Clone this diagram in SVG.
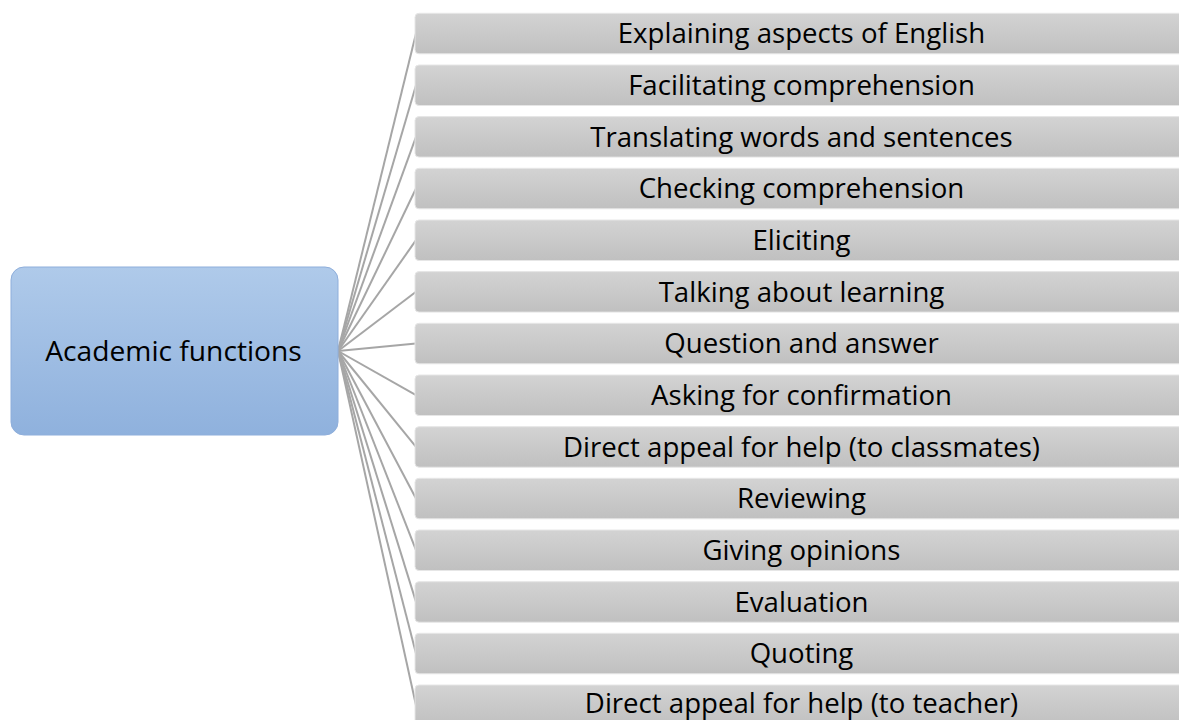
<svg xmlns="http://www.w3.org/2000/svg" width="1179" height="720" viewBox="0 0 1179 720">
<defs>
<linearGradient id="gBlue" x1="0" y1="0" x2="0" y2="1">
<stop offset="0" stop-color="#afcaea"/>
<stop offset="1" stop-color="#8fb1dd"/>
</linearGradient>
<linearGradient id="gGray" x1="0" y1="0" x2="0" y2="1">
<stop offset="0" stop-color="#d3d3d3"/>
<stop offset="1" stop-color="#c0c0c0"/>
</linearGradient>
<style>
.conn{stroke:#a6a6a6;stroke-width:2;fill:none}
.box{fill:url(#gGray);stroke:#e6e6e6;stroke-width:1}
.main{fill:url(#gBlue);stroke:#8eaedb;stroke-width:1}
.lbl{font-family:"Open Sans","Noto Sans",sans-serif;font-size:27.6px;fill:#000;text-anchor:middle}
.mlbl{font-size:28.2px}
</style>
</defs>
<rect width="1179" height="720" fill="#fff"/>
<g id="connectors">
<line class="conn" x1="338" y1="351" x2="416" y2="33.5"/>
<line class="conn" x1="338" y1="351" x2="416" y2="85.2"/>
<line class="conn" x1="338" y1="351" x2="416" y2="136.8"/>
<line class="conn" x1="338" y1="351" x2="416" y2="188.5"/>
<line class="conn" x1="338" y1="351" x2="416" y2="240.2"/>
<line class="conn" x1="338" y1="351" x2="416" y2="291.8"/>
<line class="conn" x1="338" y1="351" x2="416" y2="343.5"/>
<line class="conn" x1="338" y1="351" x2="416" y2="395.2"/>
<line class="conn" x1="338" y1="351" x2="416" y2="446.9"/>
<line class="conn" x1="338" y1="351" x2="416" y2="498.5"/>
<line class="conn" x1="338" y1="351" x2="416" y2="550.2"/>
<line class="conn" x1="338" y1="351" x2="416" y2="601.9"/>
<line class="conn" x1="338" y1="351" x2="416" y2="653.5"/>
<line class="conn" x1="338" y1="351" x2="416" y2="705.2"/>
</g>
<g id="main">
<rect class="main" x="11" y="267" width="327" height="168" rx="13"/>
<text class="lbl mlbl" x="173.5" y="360.5">Academic functions</text>
</g>
<g id="n1"><rect class="box" x="415" y="13.3" width="775" height="40.5" rx="4"/><text class="lbl" x="801.5" y="43.3">Explaining aspects of English</text></g>
<g id="n2"><rect class="box" x="415" y="65" width="775" height="40.5" rx="4"/><text class="lbl" x="801.5" y="95">Facilitating comprehension</text></g>
<g id="n3"><rect class="box" x="415" y="116.6" width="775" height="40.5" rx="4"/><text class="lbl" x="801.5" y="146.6">Translating words and sentences</text></g>
<g id="n4"><rect class="box" x="415" y="168.3" width="775" height="40.5" rx="4"/><text class="lbl" x="801.5" y="198.3">Checking comprehension</text></g>
<g id="n5"><rect class="box" x="415" y="220" width="775" height="40.5" rx="4"/><text class="lbl" x="801.5" y="250">Eliciting</text></g>
<g id="n6"><rect class="box" x="415" y="271.6" width="775" height="40.5" rx="4"/><text class="lbl" x="801.5" y="301.6">Talking about learning</text></g>
<g id="n7"><rect class="box" x="415" y="323.3" width="775" height="40.5" rx="4"/><text class="lbl" x="801.5" y="353.3">Question and answer</text></g>
<g id="n8"><rect class="box" x="415" y="375" width="775" height="40.5" rx="4"/><text class="lbl" x="801.5" y="405">Asking for confirmation</text></g>
<g id="n9"><rect class="box" x="415" y="426.7" width="775" height="40.5" rx="4"/><text class="lbl" x="801.5" y="456.7">Direct appeal for help (to classmates)</text></g>
<g id="n10"><rect class="box" x="415" y="478.3" width="775" height="40.5" rx="4"/><text class="lbl" x="801.5" y="508.3">Reviewing</text></g>
<g id="n11"><rect class="box" x="415" y="530" width="775" height="40.5" rx="4"/><text class="lbl" x="801.5" y="560">Giving opinions</text></g>
<g id="n12"><rect class="box" x="415" y="581.7" width="775" height="40.5" rx="4"/><text class="lbl" x="801.5" y="611.7">Evaluation</text></g>
<g id="n13"><rect class="box" x="415" y="633.3" width="775" height="40.5" rx="4"/><text class="lbl" x="801.5" y="663.3">Quoting</text></g>
<g id="n14"><rect class="box" x="415" y="685" width="775" height="40.5" rx="4"/><text class="lbl" x="801.5" y="712.5">Direct appeal for help (to teacher)</text></g>
</svg>
